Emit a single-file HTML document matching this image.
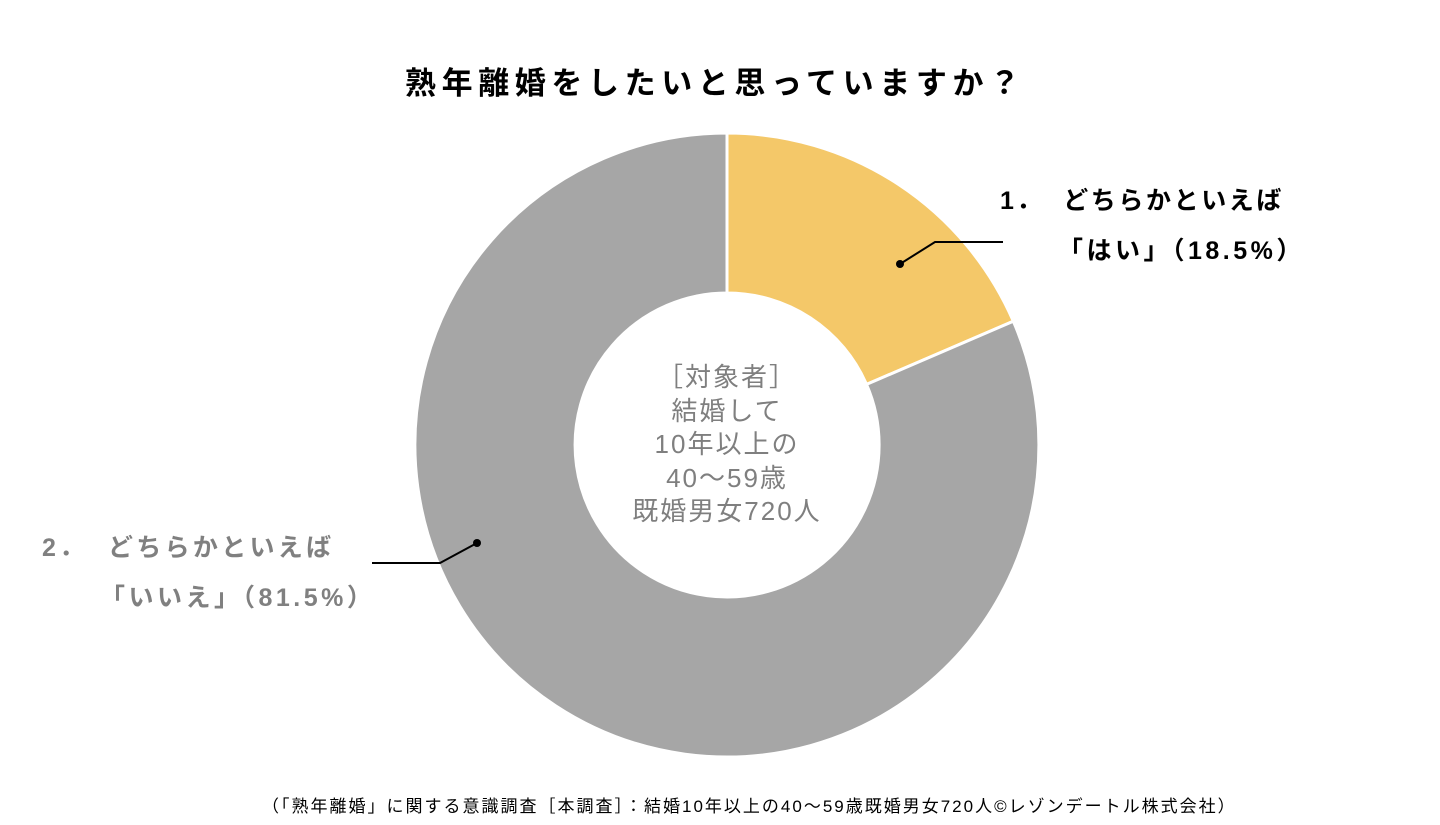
<!DOCTYPE html>
<html><head><meta charset="utf-8"><style>
html,body{margin:0;padding:0;background:#fff;width:1440px;height:825px;overflow:hidden;position:relative;font-family:"Liberation Sans","Noto Sans CJK JP",sans-serif}
.t{position:absolute;white-space:nowrap}
</style></head><body>
<svg width="1440" height="825" style="position:absolute;left:0;top:0">
<path d="M727,133 A312,312 0 0 1 1013.3,321.2 L866.5,384.4 A152,152 0 0 0 727,293 Z" fill="#F4C869" stroke="#fff" stroke-width="3"/>
<path d="M1013.3,321.2 A312,312 0 1 1 727,133 L727,293 A152,152 0 1 0 866.5,384.4 Z" fill="#A6A6A6" stroke="#fff" stroke-width="3"/>
<polyline points="900,264 935,242 1003,242" fill="none" stroke="#000" stroke-width="2"/>
<circle cx="900" cy="264" r="4" fill="#000"/>
<polyline points="477,543 440,563 372,563" fill="none" stroke="#000" stroke-width="2"/>
<circle cx="477" cy="543" r="4" fill="#000"/>
</svg>
<div class="t" style="left:405px;top:58px;font-size:31px;font-weight:bold;color:#000;letter-spacing:5.6px">熟年離婚をしたいと思っていますか？</div>
<div class="t" style="left:1000px;top:181px;font-size:25px;font-weight:bold;color:#000;letter-spacing:2.6px">1．&nbsp;&nbsp;どちらかといえば</div>
<div class="t" style="left:1058px;top:231px;font-size:25px;font-weight:bold;color:#000;letter-spacing:3.5px">「はい」（18.5%）</div>
<div class="t" style="left:42px;top:528px;font-size:25px;font-weight:bold;color:#808080;letter-spacing:3.3px">2．&nbsp;&nbsp;どちらかといえば</div>
<div class="t" style="left:100px;top:578px;font-size:25px;font-weight:bold;color:#808080;letter-spacing:3.5px">「いいえ」（81.5%）</div>
<div class="t" style="left:567px;width:320px;text-align:center;top:361px;font-size:26px;line-height:33.5px;color:#7f7f7f;letter-spacing:2px">［対象者］<br>結婚して<br>10年以上の<br>40～59歳<br>既婚男女720人</div>
<div class="t" style="left:262px;top:792px;font-size:17px;color:#000;letter-spacing:2px">（「熟年離婚」に関する意識調査［本調査］：結婚10年以上の40～59歳既婚男女720人©レゾンデートル株式会社）</div>
</body></html>
